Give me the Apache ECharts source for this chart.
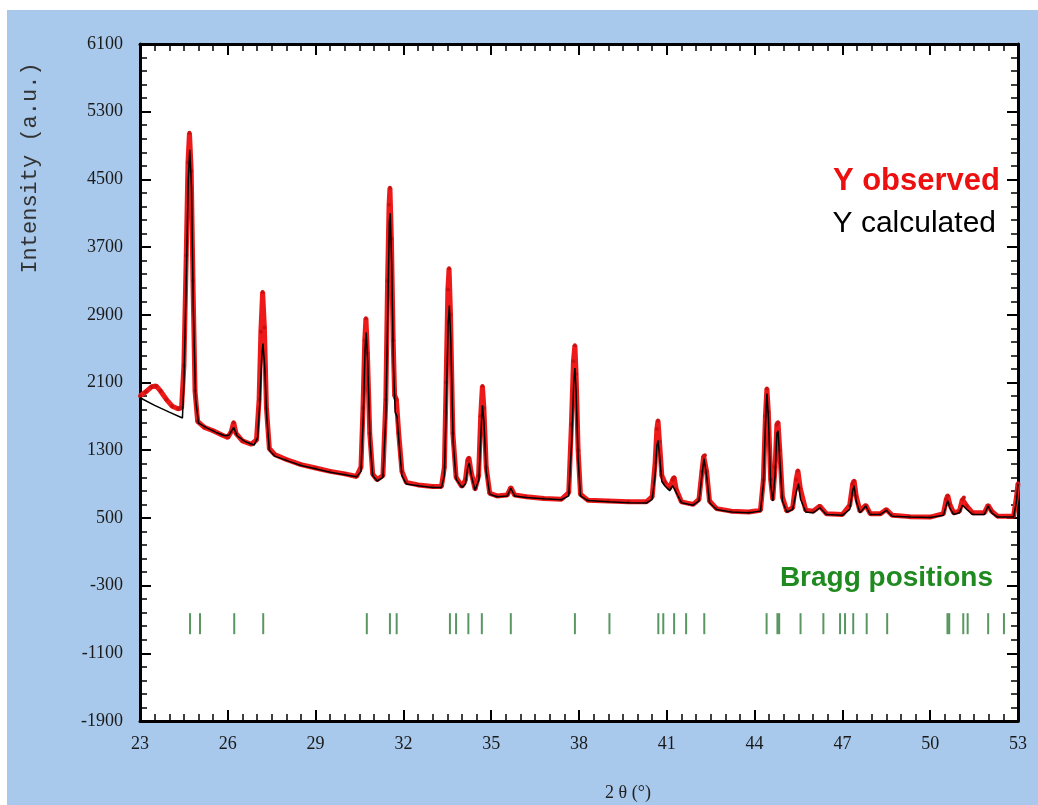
<!DOCTYPE html>
<html>
<head>
<meta charset="utf-8">
<script src="https://cdn.jsdelivr.net/npm/echarts@6/dist/echarts.min.js"></script>
<style>
  html, body { margin: 0; padding: 0; background: #ffffff; }
  #grafico { width: 1038px; height: 805px; }
</style>
</head>
<body>
<div id="grafico"></div>
<script>
// 2θ / intensidad
const observado = [
  [23.0,1940],[23.2,1990],[23.4,2050],[23.55,2060],[23.7,2000],[23.9,1900],[24.1,1820],[24.3,1790],[24.42,1800],
  [24.5,2300],[24.58,3600],[24.64,4700],[24.69,5050],[24.75,4600],[24.81,3300],[24.88,2000],[24.97,1640],
  [25.2,1570],[25.5,1530],[25.8,1480],[26.0,1450],[26.12,1520],[26.2,1630],[26.28,1500],[26.5,1410],[26.8,1370],
  [26.98,1420],[27.07,1900],[27.13,2700],[27.19,3170],[27.25,2750],[27.32,1800],[27.42,1320],[27.6,1250],
  [28.0,1190],[28.5,1130],[29.0,1090],[29.5,1050],[30.0,1020],[30.4,990],[30.55,1100],[30.62,1800],[30.68,2600],
  [30.72,2860],[30.77,2450],[30.85,1500],[30.95,1020],[31.1,950],[31.3,1000],[31.4,1900],[31.46,3300],[31.51,4200],
  [31.54,4400],[31.59,3800],[31.65,2600],[31.7,1950],[31.76,1900],[31.84,1500],[31.95,1050],[32.1,920],[32.5,890],
  [33.0,870],[33.3,870],[33.4,1100],[33.46,2100],[33.52,3200],[33.56,3450],[33.61,2900],[33.69,1500],[33.8,980],
  [34.0,870],[34.12,950],[34.2,1180],[34.24,1210],[34.31,1050],[34.45,840],[34.57,1000],[34.64,1700],[34.7,2060],
  [34.75,1800],[34.83,1100],[34.95,790],[35.2,760],[35.55,770],[35.67,860],[35.8,770],[36.2,750],[36.8,730],
  [37.4,720],[37.65,800],[37.74,1600],[37.81,2350],[37.86,2540],[37.9,2200],[37.97,1300],[38.05,780],[38.3,710],
  [39.0,700],[39.7,690],[40.3,690],[40.5,750],[40.6,1150],[40.66,1550],[40.7,1650],[40.75,1400],[40.83,1000],
  [40.93,920],[41.1,850],[41.2,950],[41.25,980],[41.32,840],[41.5,690],[41.9,660],[42.1,720],[42.2,1050],
  [42.26,1230],[42.3,1240],[42.36,1050],[42.46,700],[42.7,610],[43.2,580],[43.8,570],[44.2,590],[44.3,950],
  [44.37,1700],[44.42,2030],[44.47,1750],[44.55,950],[44.62,720],[44.7,1100],[44.76,1600],[44.8,1630],[44.86,1300],
  [44.95,750],[45.1,580],[45.3,620],[45.42,950],[45.48,1060],[45.56,850],[45.75,590],[46.0,580],[46.23,640],
  [46.45,550],[47.0,540],[47.25,650],[47.35,900],[47.4,940],[47.47,760],[47.6,580],[47.8,650],[47.95,550],
  [48.3,550],[48.5,600],[48.7,530],[49.3,515],[50.0,510],[50.45,550],[50.55,720],[50.6,765],[50.67,660],
  [50.8,560],[51.0,580],[51.1,720],[51.15,740],[51.25,640],[51.45,560],[51.85,560],[51.98,650],[52.1,580],
  [52.3,520],[52.85,520],[52.95,750],[53.0,910]
];

const calculado = [
  [23.0,1920],[23.5,1830],[24.0,1750],[24.45,1680],[24.5,2100],[24.58,3300],[24.65,4500],[24.7,4850],[24.76,4400],
  [24.82,3000],[24.9,1900],[25.0,1620],[25.3,1560],[25.6,1510],[25.9,1470],[26.05,1480],[26.2,1570],[26.32,1470],
  [26.6,1400],[26.9,1360],[27.02,1450],[27.1,1900],[27.16,2400],[27.2,2560],[27.26,2300],[27.33,1700],[27.42,1300],
  [27.6,1230],[28.0,1180],[28.5,1120],[29.0,1080],[29.5,1040],[30.0,1010],[30.4,985],[30.55,1050],[30.63,1700],
  [30.69,2500],[30.73,2690],[30.78,2350],[30.86,1400],[30.95,1000],[31.1,935],[31.3,980],[31.4,1700],[31.47,3000],
  [31.52,4000],[31.55,4100],[31.6,3500],[31.66,2300],[31.72,1750],[31.78,1700],[31.86,1350],[31.95,1000],[32.1,900],
  [32.5,880],[33.0,860],[33.3,860],[33.4,1000],[33.47,1900],[33.53,2800],[33.57,3010],[33.62,2600],[33.7,1400],
  [33.8,960],[34.0,860],[34.12,900],[34.2,1100],[34.25,1150],[34.32,1000],[34.45,830],[34.58,950],[34.65,1500],
  [34.7,1830],[34.75,1650],[34.83,1050],[34.95,780],[35.2,750],[35.55,760],[35.67,850],[35.8,760],[36.2,740],
  [36.8,725],[37.4,715],[37.65,760],[37.75,1400],[37.82,2100],[37.86,2270],[37.9,2000],[37.97,1200],[38.05,760],
  [38.3,705],[39.0,690],[39.7,680],[40.3,675],[40.5,720],[40.6,1000],[40.66,1350],[40.7,1415],[40.75,1250],
  [40.83,930],[40.93,880],[41.1,820],[41.2,880],[41.25,890],[41.32,800],[41.5,680],[41.9,650],[42.1,700],
  [42.2,1000],[42.27,1200],[42.3,1210],[42.36,1000],[42.46,680],[42.7,600],[43.2,570],[43.8,560],[44.2,580],
  [44.3,900],[44.37,1600],[44.42,1970],[44.47,1700],[44.55,900],[44.62,700],[44.7,1000],[44.76,1500],[44.8,1530],
  [44.86,1200],[44.95,700],[45.1,570],[45.3,600],[45.42,800],[45.5,905],[45.57,720],[45.75,570],[46.0,560],
  [46.23,620],[46.45,540],[47.0,530],[47.25,600],[47.35,820],[47.4,880],[47.47,700],[47.6,560],[47.8,640],
  [47.95,540],[48.3,540],[48.5,590],[48.7,520],[49.3,510],[50.0,505],[50.45,530],[50.55,650],[50.6,704],
  [50.67,620],[50.8,540],[51.0,560],[51.1,650],[51.15,660],[51.25,600],[51.45,540],[51.85,540],[51.98,640],
  [52.1,560],[52.3,510],[52.85,510],[52.95,700],[53.0,900]
];

const posicionesBragg = [
  24.71, 25.05, 26.22, 27.21, 30.75, 31.54, 31.77, 33.59, 33.80, 34.22, 34.68, 35.67, 37.86, 39.04,
  40.71, 40.88, 41.25, 41.66, 42.28, 44.41, 44.78, 44.84, 45.57, 46.35, 46.92, 47.09, 47.37, 47.83,
  48.53, 50.59, 50.65, 51.13, 51.28, 51.98, 52.52
];
const nivelBragg = -750;

const ejeX = { min: 23, max: 53, intervalo: 3 };
const ejeY = { min: -1900, max: 6100, intervalo: 800 };

const fuenteTicks = '"Liberation Serif", "Times New Roman", serif';

const chartDom = document.getElementById('grafico');
const myChart = echarts.init(chartDom);

function ejeComun(extra) {
    return Object.assign({
        axisLine: { show: true, onZero: false, lineStyle: { color: '#000', width: 3 } },
        axisTick: { show: true, inside: true, length: 11, lineStyle: { color: '#000', width: 2 } },
        splitLine: { show: false },
        axisLabel: { show: false }
    }, extra);
}

// sin separador de miles, como en la figura
const sinComas = value => String(value);

const option = {
    backgroundColor: '#a8c9ec',
    animation: false,
    grid: {
        left: 140, right: 20, top: 44, bottom: 84,
        show: true, backgroundColor: '#ffffff', borderWidth: 0
    },
    xAxis: [
        ejeComun({
            type: 'value', position: 'bottom',
            min: ejeX.min, max: ejeX.max, interval: ejeX.intervalo,
            minorTick: { show: true, splitNumber: 6, length: 7, lineStyle: { color: '#000', width: 1.5 } },
            axisLabel: { show: true, margin: 14, color: '#1a1a1a', fontFamily: fuenteTicks, fontSize: 18, formatter: sinComas }
        }),
        ejeComun({
            type: 'value', position: 'top',
            min: ejeX.min, max: ejeX.max, interval: ejeX.intervalo,
            minorTick: { show: true, splitNumber: 6, length: 7, lineStyle: { color: '#000', width: 1.5 } }
        })
    ],
    yAxis: [
        ejeComun({
            type: 'value', position: 'left',
            min: ejeY.min, max: ejeY.max, interval: ejeY.intervalo,
            minorTick: { show: true, splitNumber: 5, length: 7, lineStyle: { color: '#000', width: 1.5 } },
            axisLabel: { show: true, margin: 17, color: '#1a1a1a', fontFamily: fuenteTicks, fontSize: 18, formatter: sinComas }
        }),
        ejeComun({
            type: 'value', position: 'right',
            min: ejeY.min, max: ejeY.max, interval: ejeY.intervalo,
            minorTick: { show: true, splitNumber: 5, length: 7, lineStyle: { color: '#000', width: 1.5 } }
        })
    ],
    graphic: [
        { type: 'rect', left: 0, top: 0, shape: { width: 1038, height: 10 }, style: { fill: '#ffffff' }, silent: true },
        { type: 'rect', left: 0, top: 0, shape: { width: 7, height: 805 }, style: { fill: '#ffffff' }, silent: true },
        {
            type: 'text', x: 30, y: 168, rotation: Math.PI / 2,
            style: {
                text: 'Intensity (a.u.)', fill: '#333',
                font: '22px "Liberation Mono", "Courier New", monospace',
                align: 'center', verticalAlign: 'middle'
            }
        },
        {
            type: 'text', x: 628, y: 793,
            style: {
                text: '2 θ (°)', fill: '#222',
                font: '18px "Liberation Serif", "Times New Roman", serif',
                align: 'center', verticalAlign: 'middle'
            }
        },
        {
            type: 'text', x: 1000, y: 181, z: 10,
            style: {
                text: 'Y observed', fill: '#ec1010',
                font: 'bold 31px "Liberation Sans", Arial, sans-serif',
                align: 'right', verticalAlign: 'middle'
            }
        },
        {
            type: 'text', x: 996, y: 224, z: 10,
            style: {
                text: 'Y calculated', fill: '#000',
                font: '30px "Liberation Sans", Arial, sans-serif',
                align: 'right', verticalAlign: 'middle'
            }
        },
        {
            type: 'text', x: 993, y: 578, z: 10,
            style: {
                text: 'Bragg positions', fill: '#1f8a1f',
                font: 'bold 28px "Liberation Sans", Arial, sans-serif',
                align: 'right', verticalAlign: 'middle'
            }
        }
    ],
    series: [
        {
            name: 'Y observed',
            type: 'line',
            data: observado,
            lineStyle: { color: '#ee1a1a', width: 5 },
            symbol: 'circle',
            symbolSize: 4,
            showSymbol: true,
            itemStyle: { color: '#cc1010' },
            z: 2
        },
        {
            name: 'Y calculated',
            type: 'line',
            data: calculado,
            lineStyle: { color: '#000', width: 1.5 },
            showSymbol: false,
            z: 3
        },
        {
            name: 'Bragg positions',
            type: 'scatter',
            data: posicionesBragg.map(x => [x, nivelBragg]),
            symbol: 'rect',
            symbolSize: [2, 21],
            itemStyle: { color: '#2e7d3a' },
            z: 3
        }
    ]
};

myChart.setOption(option);
</script>
</body>
</html>
